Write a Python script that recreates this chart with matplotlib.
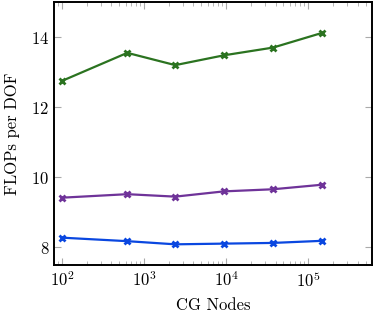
import matplotlib
matplotlib.use("Agg")
import matplotlib.pyplot as plt

# data
nodes = [100, 625, 2401, 9409, 37249, 148225]
flops_green = [12.75, 13.55, 13.20, 13.48, 13.70, 14.12]
flops_purple = [9.42, 9.52, 9.45, 9.60, 9.66, 9.79]
flops_blue = [8.28, 8.18, 8.09, 8.11, 8.13, 8.19]

plt.rcParams["font.family"] = "serif"
plt.rcParams["font.serif"] = ["cmr10"]
plt.rcParams["mathtext.fontset"] = "cm"
plt.rcParams["axes.formatter.use_mathtext"] = True

fig = plt.figure(figsize=(3.74, 3.14), dpi=100)
ax = fig.add_axes([0.1444, 0.156, 0.8503, 0.8376])

for vals, col in [(flops_green, "#2b7320"), (flops_purple, "#6f3399"), (flops_blue, "#0a47e0")]:
    ax.plot(nodes, vals, color=col, lw=1.6, marker="x", ms=4, mew=2)

ax.set_xscale("log")
ax.set_xlim(80, 6.0e5)
ax.set_ylim(7.5, 15.0)
ax.set_yticks([8, 10, 12, 14])
ax.set_xticks([1e2, 1e3, 1e4, 1e5])

ax.tick_params(which="both", direction="in", top=True, right=True, color="#aaaaaa",
               labelsize=12)
ax.tick_params(which="major", length=5)
ax.tick_params(which="minor", length=3)
for s in ax.spines.values():
    s.set_linewidth(1.4)

ax.set_xlabel("CG Nodes", fontsize=12, labelpad=6)
ax.set_ylabel("FLOPs per DOF", fontsize=12, labelpad=8)

fig.savefig("out.png", dpi=100)
